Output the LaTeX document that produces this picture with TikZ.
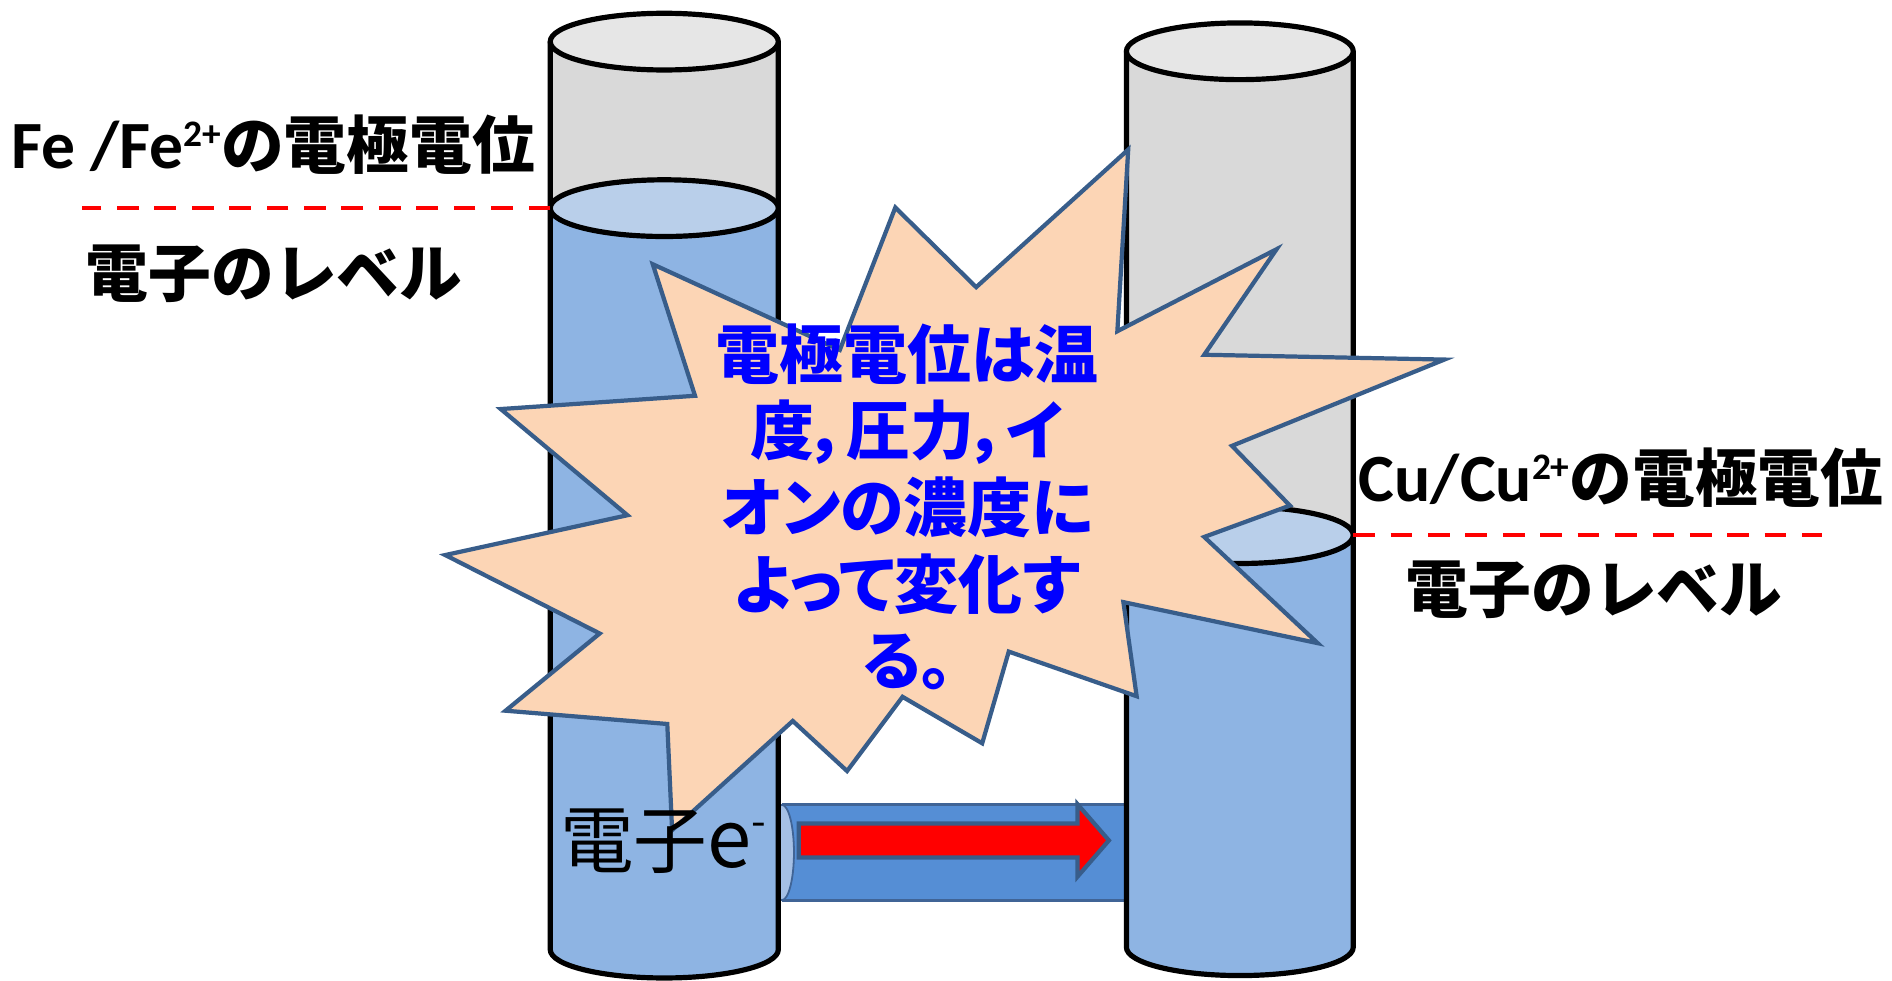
\documentclass[tikz,border=0pt]{standalone}
\usepackage{fontspec}
\newfontfamily\jp{Noto Sans CJK JP}
\newfontfamily\jpp{Noto Sans CJK JP}[RawFeature=+palt]
\newfontfamily\lat{Carlito}

\definecolor{graytop}{HTML}{E6E6E6}
\definecolor{graybody}{HTML}{D9D9D9}
\definecolor{liqbody}{HTML}{8EB4E3}
\definecolor{liqtop}{HTML}{B9CFEA}
\definecolor{pipebody}{HTML}{558ED5}
\definecolor{pipeedge}{HTML}{406496}
\definecolor{pipecap}{HTML}{A5C0E5}
\definecolor{burstfill}{HTML}{FCD5B5}
\definecolor{burstedge}{HTML}{385D8A}
\definecolor{notetext}{RGB}{0,0,255}

% Latin part and superscript charge of the electrode labels
\newcommand\metal[1]{{\lat\bfseries\fontsize{56}{60}\selectfont #1}}
\newcommand\chg[1]{\raisebox{19pt}{\lat\bfseries\fontsize{31}{31}\selectfont #1}}

% one upright tank: #1 centre x, #2 top rim y, #3 liquid surface y, #4 bottom y, #5 half width
\newcommand\tank[5]{%
  \begin{scope}[shift={(#1,0)}]
    \fill[graybody] (-#5,#2) rectangle (#5,#3);
    \fill[liqbody] (-#5,#3) -- (-#5,#4)
      arc[start angle=180,end angle=360,x radius=#5pt,y radius=23.5pt] -- (#5,#3) -- cycle;
    \draw[tankline] (-#5,#2) -- (-#5,#4)
      arc[start angle=180,end angle=360,x radius=#5pt,y radius=23.5pt] -- (#5,#2);
    \filldraw[tankline,fill=liqtop] (0,#3) ellipse[x radius=#5pt,y radius=23.5pt];
    \filldraw[tankline,fill=graytop] (0,#2) ellipse[x radius=#5pt,y radius=23.5pt];
  \end{scope}}

\tikzset{
  tankline/.style={black,line width=4.3pt,line join=round},
  level/.style={red,line width=3.5pt,dash pattern=on 18pt off 13pt},
  lab/.style={inner sep=0pt,font=\jp\bfseries\fontsize{52}{60}\selectfont},
  burst/.style={fill=burstfill,draw=burstedge,line width=3.5pt,line join=miter},
  note/.style={inner sep=0pt,align=center,text=notetext,
    font=\jpp\bfseries\fontsize{53}{63.5}\selectfont},
  flowarrow/.style={fill=red,draw=burstedge,line width=3.5pt,line join=miter},
}

\begin{document}
\begin{tikzpicture}[x=1pt,y=-1pt]
  \fill[white] (0,0) rectangle (1568,813);
  \useasboundingbox (0,0) rectangle (1568,813);

  % connecting pipe between the tanks
  \fill[pipebody] (648,667) rectangle (940,746);
  \draw[pipeedge,line width=2.5pt] (648,667) -- (936,667);
  \draw[pipeedge,line width=2.5pt] (648,746) -- (936,746);
  \filldraw[fill=pipecap,draw=pipeedge,line width=1.5pt] (648,706.5) ellipse[x radius=10pt,y radius=39.5pt];

  % the two tanks
  \tank{550.5}{34.5}{172.5}{787}{94.5}
  \tank{1027.5}{42.5}{443.5}{785}{94}

  % electron flow arrow inside the pipe
  \draw[flowarrow] (662,682.5) -- (893,682.5) -- (893,666.5) -- (919,696.5)
    -- (893,726.5) -- (893,710.7) -- (662,710.7) -- cycle;

  % electrode potential levels
  \coordinate (feS) at (456,172.5);
  \coordinate (feL) at (68,172.5);
  \coordinate (cuS) at (1121.5,443.5);
  \coordinate (cuR) at (1510,443.5);
  \draw[level] (feS) -- (feL);
  \draw[level] (cuS) -- (cuR);

  % explosion callout
  \draw[burst] (742,172) -- (809,238) -- (935,124) -- (926,274.5) -- (1058,206.5)
    -- (998,294) -- (1197,298) -- (1021,369.5) -- (1069,419) -- (998,445)
    -- (1092,533) -- (931,499) -- (942,577) -- (836,540) -- (814,616)
    -- (748,577.5) -- (702,639) -- (657,597.5) -- (557,688) -- (553,600)
    -- (419,589) -- (497,525) -- (369,460) -- (520,427) -- (415,339)
    -- (576,328) -- (541,219) -- (696,290) -- cycle;

  \node[note] (note) at (752,420)
    {電極電位は温\\度，圧力，イ\\オンの濃度に\\よって変化す\\る。};

  % labels
  \node[lab,anchor=base west] (feLab) at (9,140)
    {\metal{Fe /Fe}\chg{2+}の電極電位};
  \node[lab,anchor=base west] (feLev) at (71,246) {電子のレベル};
  \node[lab,anchor=base west] (cuLab) at (1126,416)
    {\metal{Cu/Cu}\chg{2+}の電極電位};
  \node[lab,anchor=base west] (cuLev) at (1165,508) {電子のレベル};

  \node[inner sep=0pt,anchor=base west] (elec) at (464,719)
    {{\jp\fontsize{61}{61}\selectfont 電子}{\jp\fontsize{66}{66}\selectfont e}\raisebox{26pt}{\jp\fontsize{35}{35}\selectfont -}};
\end{tikzpicture}
\end{document}
